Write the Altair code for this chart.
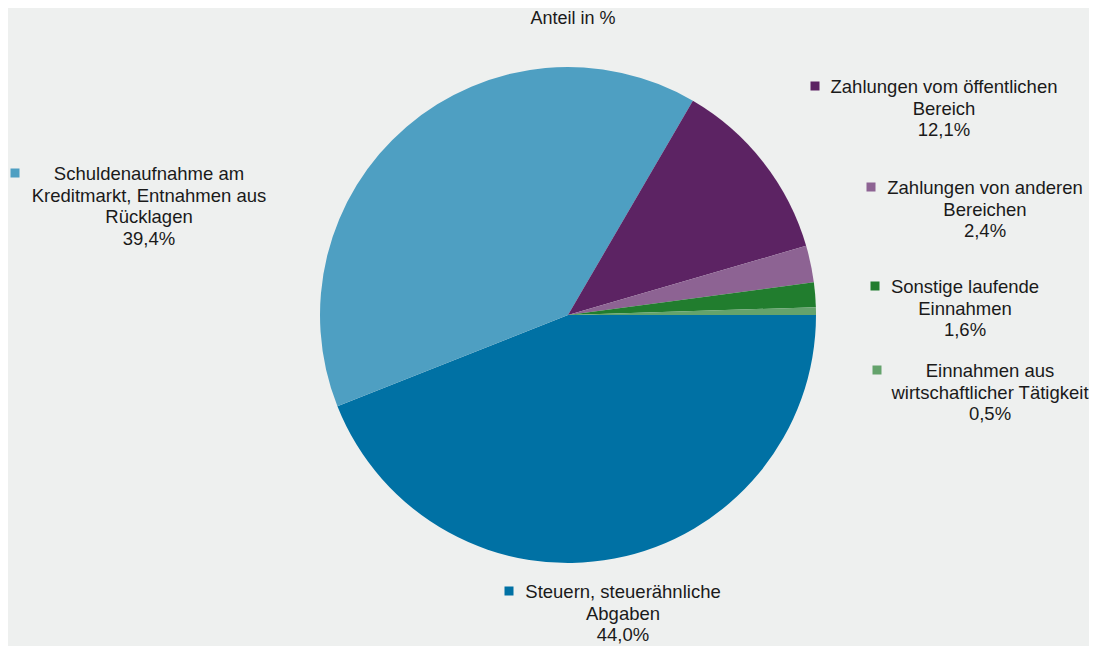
import math
import altair as alt
import pandas as pd

# ---- data ----
names = [
    "Steuern, steuerähnliche\nAbgaben",
    "Schuldenaufnahme am\nKreditmarkt, Entnahmen aus\nRücklagen",
    "Zahlungen vom öffentlichen\nBereich",
    "Zahlungen von anderen\nBereichen",
    "Sonstige laufende\nEinnahmen",
    "Einnahmen aus\nwirtschaftlicher Tätigkeit",
]
values = [44.0, 39.4, 12.1, 2.4, 1.6, 0.5]
colors = ["#0071A4", "#4E9FC2", "#5C2363", "#8D6393", "#217D2E", "#64A36C"]
title_text = "Anteil in %"

# ---- layout (plot-area pixels) ----
W, H = 1081, 638
cx, cy, radius = 560, 307, 248
label_x = [615, 141, 936, 977, 957, 982]
label_y = [590, 172, 85, 186, 285, 369]
marker_x = [501, 7, 807, 863, 867, 869]
marker_y = [583, 165, 78, 179, 278, 362]

df = pd.DataFrame({
    "idx": list(range(len(names))),
    "name": names,
    "value": values,
    "label": [f"{n}\n{str(v).replace('.', ',')}%" for n, v in zip(names, values)],
    "lx": label_x,
    "ly": label_y,
    "mx": marker_x,
    "my": marker_y,
})

color_scale = alt.Scale(domain=names, range=colors)

pie = alt.Chart(df).mark_arc(outerRadius=radius, strokeWidth=0).encode(
    theta=alt.Theta("value:Q", stack=True,
                    scale=alt.Scale(range=[math.pi / 2, math.pi / 2 + 2 * math.pi])),
    color=alt.Color("name:N", scale=color_scale, legend=None),
    order=alt.Order("idx:Q"),
    x=alt.value(cx),
    y=alt.value(cy),
)

labels = alt.Chart(df).mark_text(
    align="center", baseline="alphabetic", lineBreak="\n", lineHeight=21.5,
    fontSize=18.5, font="Liberation Sans", color="#1a1a1a",
).encode(
    x=alt.X("lx:Q", scale=None),
    y=alt.Y("ly:Q", scale=None),
    text="label:N",
)

markers = alt.Chart(df).mark_square(size=81, opacity=1).encode(
    x=alt.X("mx:Q", scale=None),
    y=alt.Y("my:Q", scale=None),
    color=alt.Color("name:N", scale=color_scale, legend=None),
)

title = alt.Chart(pd.DataFrame({"t": [title_text]})).mark_text(
    align="center", baseline="alphabetic", fontSize=18, font="Liberation Sans",
    color="#1a1a1a",
).encode(x=alt.value(565), y=alt.value(16), text="t:N")

chart = alt.layer(pie, markers, labels, title).properties(
    width=W, height=H, padding=0, autosize=alt.AutoSizeParams(type="none"),
    background="#EEF0EF",
).configure_view(stroke=None)

chart.save("out.html", embed_options={"renderer": "svg", "actions": False})
